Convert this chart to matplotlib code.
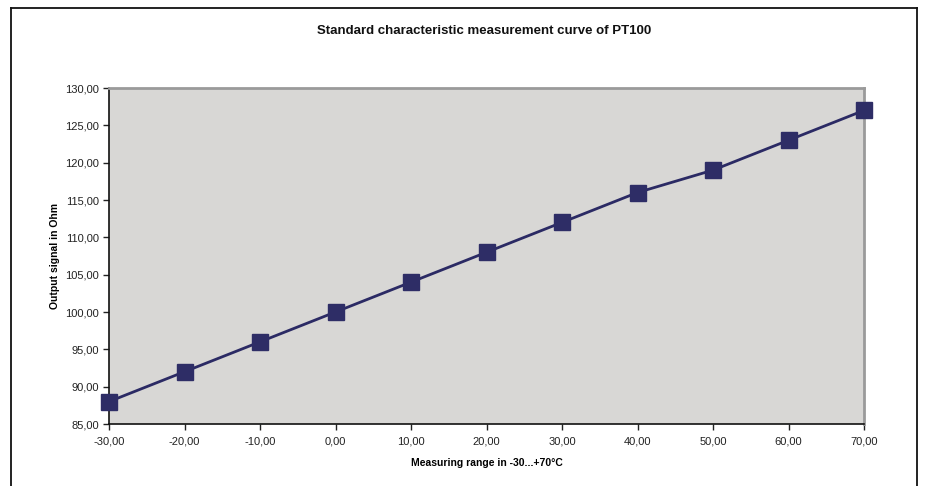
import matplotlib
matplotlib.use('Agg')
import matplotlib.pyplot as plt
from matplotlib.lines import Line2D
from matplotlib.ticker import FuncFormatter

temps = [-30, -20, -10, 0, 10, 20, 30, 40, 50, 60, 70]
ohm = [88, 92, 96, 100, 104, 108, 112, 116, 119, 123, 127]

plt.rcParams['font.family'] = ['Liberation Sans', 'DejaVu Sans']

fig = plt.figure(figsize=(9.25, 4.86), dpi=100)
ax = fig.add_axes([109/925, 1-424/486, (864-109)/925, (424-88)/486])
ax.set_facecolor('#d8d7d5')

ax.plot(temps, ohm, color='#2b2a64', lw=2, marker='s', ms=11.5, mfc='#2e2d66', mec='#2e2d66',
        clip_on=False, zorder=5)

ax.set_xlim(-30, 70)
ax.set_ylim(85, 130)
ax.set_xticks(range(-30, 71, 10))
ax.set_yticks(range(85, 131, 5))
fmt = FuncFormatter(lambda v, p: f'{v:.2f}'.replace('.', ','))
ax.xaxis.set_major_formatter(fmt)
ax.yaxis.set_major_formatter(fmt)
ax.tick_params(labelsize=8, length=4, width=1, colors='#222222', pad=5)
ax.tick_params(axis='y', pad=3)
for s in ['left', 'bottom']:
    ax.spines[s].set_color('#111111')
    ax.spines[s].set_linewidth(1.2)
for s in ['top', 'right']:
    ax.spines[s].set_color('#9a9a9a')
    ax.spines[s].set_linewidth(2)

ax.set_xlabel('Measuring range in -30...+70°C', fontsize=7.5, fontweight='bold', labelpad=8)
ax.set_ylabel('Output signal in Ohm', fontsize=7.5, fontweight='bold', labelpad=4)
fig.text(484/925, 1-31/486, 'Standard characteristic measurement curve of PT100',
         ha='center', va='center', fontsize=9.5, fontweight='bold', color='#111111')

# outer chart border
x0, x1, y0 = 10.5/925, 916.5/925, 1-8.5/486
fig.add_artist(Line2D([x0, x0], [0, y0], color='#111111', lw=1.3, transform=fig.transFigure))
fig.add_artist(Line2D([x0, x1], [y0, y0], color='#111111', lw=1.3, transform=fig.transFigure))
fig.add_artist(Line2D([x1, x1], [0, y0], color='#111111', lw=1.3, transform=fig.transFigure))

fig.savefig('out.png', dpi=100)
